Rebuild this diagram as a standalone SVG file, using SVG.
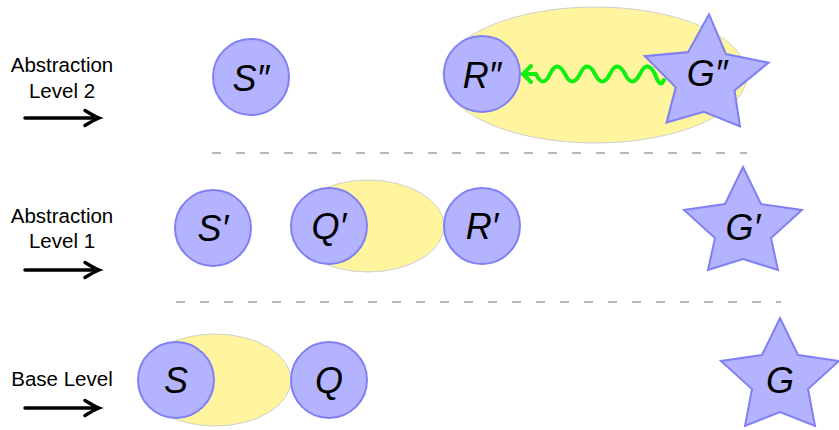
<svg xmlns="http://www.w3.org/2000/svg" width="839" height="430" viewBox="0 0 839 430">
<defs>
<style>
.lbl{font-family:"Liberation Sans",Arial,sans-serif;font-size:20.5px;fill:#000;text-anchor:middle}
.nl{font-family:"Liberation Sans",Arial,sans-serif;font-style:italic;font-size:36px;fill:#000;text-anchor:middle}
.nd{fill:#b3b3ff;stroke:#8080f5;stroke-width:2}
.reg{fill:#fff59e;stroke:#cfcfcf;stroke-width:1}
.sep{stroke:#a0a0a0;stroke-width:1.3;stroke-dasharray:9 15;fill:none}
.arr{stroke:#000;stroke-width:3.5;fill:none;stroke-linecap:round}
.snake{stroke:#11ee11;stroke-width:4;fill:none;stroke-linecap:round;stroke-linejoin:round}
</style>
</defs>
<rect width="839" height="430" fill="#fff"/>
<g id="levels">
<text class="lbl" x="62" y="72">Abstraction</text>
<text class="lbl" x="62" y="98">Level 2</text>
<path class="arr" d="M25,118 H98 M85,110.5 Q94,116 99,118 Q94,120 85,125.5"/>
<text class="lbl" x="62" y="223">Abstraction</text>
<text class="lbl" x="62" y="248">Level 1</text>
<path class="arr" d="M25,270 H98 M85,262.5 Q94,268 99,270 Q94,272 85,277.5"/>
<text class="lbl" x="62" y="386">Base Level</text>
<path class="arr" d="M25,408 H98 M85,400.5 Q94,406 99,408 Q94,410 85,415.5"/>
</g>
<g id="separators">
<line class="sep" x1="212" y1="153" x2="747" y2="153"/>
<line class="sep" x1="176" y1="302" x2="781" y2="302"/>
</g>
<g id="regions">
<ellipse class="reg" cx="595" cy="75" rx="152" ry="68"/>
<ellipse class="reg" cx="368" cy="226" rx="76" ry="46"/>
<ellipse class="reg" cx="215" cy="380" rx="76" ry="46"/>
</g>
<g id="connectors">
<path class="snake" d="M664,80 Q660,89 655,74 Q647,59 640,74 Q632,89 625,74 Q617,59 610,74 Q602,89 595,74 Q587,59 580,74 Q572,89 565,74 Q557,59 550,74 Q543,89 536,74 H523"/>
<path class="snake" d="M531,66 Q526,71 523,74 Q526,77 531,82"/>
</g>
<g id="S2"><circle class="nd" cx="251" cy="77" r="38"/><text class="nl" x="251" y="91">S″</text></g>
<g id="R2"><circle class="nd" cx="482" cy="74" r="38"/><text class="nl" x="482" y="88">R″</text></g>
<g id="G2"><polygon class="nd" transform="translate(706,72) rotate(3) scale(1.05)" points="0,-55 18,-18 59,-12 28,16 35,50 0,38 -35,50 -28,16 -59,-12 -18,-18"/><text class="nl" x="707" y="86">G″</text></g>
<g id="S1"><circle class="nd" cx="213" cy="228" r="38"/><text class="nl" x="213" y="241">S′</text></g>
<g id="Q1"><circle class="nd" cx="329" cy="226" r="38"/><text class="nl" x="329" y="239">Q′</text></g>
<g id="R1"><circle class="nd" cx="482" cy="226" r="38"/><text class="nl" x="482" y="239">R′</text></g>
<g id="G1"><polygon class="nd" transform="translate(743,222)" points="0,-55 18,-18 59,-12 28,16 35,48 0,37 -35,48 -28,16 -59,-12 -18,-18"/><text class="nl" x="743" y="240">G′</text></g>
<g id="S0"><circle class="nd" cx="176" cy="380" r="38"/><text class="nl" x="176" y="393">S</text></g>
<g id="Q0"><circle class="nd" cx="329" cy="380" r="38"/><text class="nl" x="329" y="393">Q</text></g>
<g id="G0"><polygon class="nd" transform="translate(780,373)" points="0,-55 18,-18 59,-12 28,16 35,53 0,39 -35,53 -28,16 -59,-12 -18,-18"/><text class="nl" x="780" y="393">G</text></g>
</svg>
